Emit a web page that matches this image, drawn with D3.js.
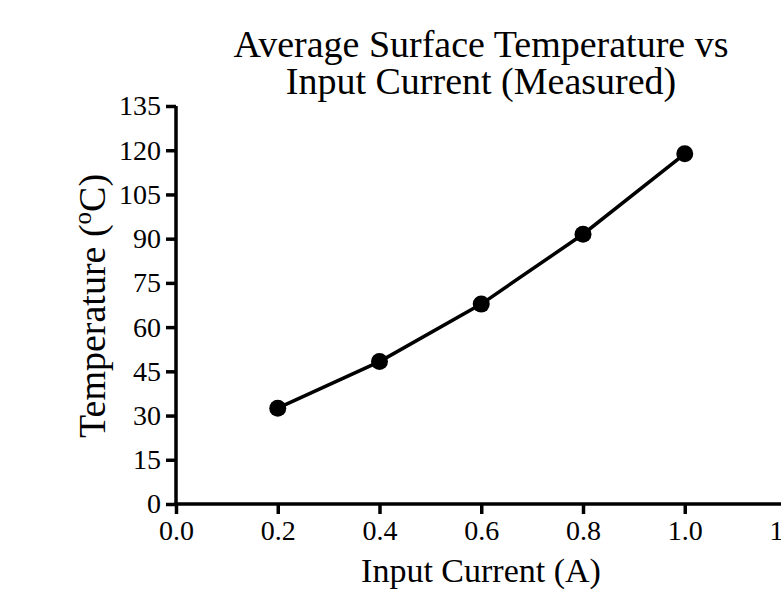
<!DOCTYPE html>
<html>
<head>
<meta charset="utf-8">
<script src="https://d3js.org/d3.v7.min.js"></script>
<style>
  body { margin: 0; background: #fff; }
  text { font-family: "Liberation Serif", "Times New Roman", serif; fill: #000; }
</style>
</head>
<body>
<div id="vis"></div>
<script>
// data
var currents = [0.2, 0.4, 0.6, 0.8, 1.0];
var temps = [32.5, 48.3, 67.8, 91.5, 118.8];
var xTicks = [0.0, 0.2, 0.4, 0.6, 0.8, 1.0, 1.2];
var yTicks = [0, 15, 30, 45, 60, 75, 90, 105, 120, 135];
var titleLines = ["Average Surface Temperature vs", "Input Current (Measured)"];

var w = 781, h = 601;
var plotLeft = 176, plotTop = 106, plotW = 610.5, plotH = 398;

var svg = d3.select("#vis").append("svg")
    .attr("width", w)
    .attr("height", h);

var x = d3.scaleLinear().domain([0, 1.2]).range([plotLeft, plotLeft + plotW]);
var y = d3.scaleLinear().domain([0, 135]).range([plotTop + plotH, plotTop]);

var xAxis = svg.append("g")
    .attr("transform", "translate(0," + (plotTop + plotH) + ")")
    .call(d3.axisBottom(x).tickValues(xTicks).tickFormat(d3.format(".1f")).tickSize(10).tickSizeOuter(0).tickPadding(6));

var yAxis = svg.append("g")
    .attr("transform", "translate(" + plotLeft + ",0)")
    .call(d3.axisLeft(y).tickValues(yTicks).tickSize(10).tickSizeOuter(0).tickPadding(5));

[xAxis, yAxis].forEach(function(g) {
  g.attr("font-family", null).attr("font-size", null);
  g.selectAll("path, line").attr("stroke", "#000").attr("stroke-width", 3.5);
  g.selectAll("text").style("font-size", "28px").attr("fill", "#000");
});
// extend axis lines to the corner
xAxis.select("path").attr("d", "M" + (plotLeft - 1.75) + ",0H" + (plotLeft + plotW));
yAxis.select("path").attr("d", "M0," + (plotTop + plotH + 1.75) + "V" + plotTop);

var points = currents.map(function(c, i) { return [c, temps[i]]; });

var line = d3.line()
    .x(function(d) { return x(d[0]); })
    .y(function(d) { return y(d[1]); });

svg.append("path")
    .datum(points)
    .attr("fill", "none")
    .attr("stroke", "#000")
    .attr("stroke-width", 3.5)
    .attr("d", line);

svg.selectAll("circle")
    .data(points)
    .enter().append("circle")
    .attr("cx", function(d) { return x(d[0]); })
    .attr("cy", function(d) { return y(d[1]); })
    .attr("r", 8.5)
    .attr("fill", "#000");

svg.selectAll(".title")
    .data(titleLines)
    .enter().append("text")
    .attr("class", "title")
    .attr("x", 481)
    .attr("y", function(d, i) { return 57 + i * 37; })
    .attr("text-anchor", "middle")
    .style("font-size", "38px")
    .text(function(d) { return d; });

svg.append("text")
    .attr("x", 481)
    .attr("y", 582)
    .attr("text-anchor", "middle")
    .style("font-size", "34px")
    .text("Input Current (A)");

var yl = svg.append("text")
    .attr("transform", "translate(105,306) rotate(-90)")
    .attr("text-anchor", "middle")
    .style("font-size", "38px");
yl.append("tspan").text("Temperature (");
yl.append("tspan").attr("dy", -14).style("font-size", "25px").text("o");
yl.append("tspan").attr("dy", 14).text("C)");
</script>
</body>
</html>
